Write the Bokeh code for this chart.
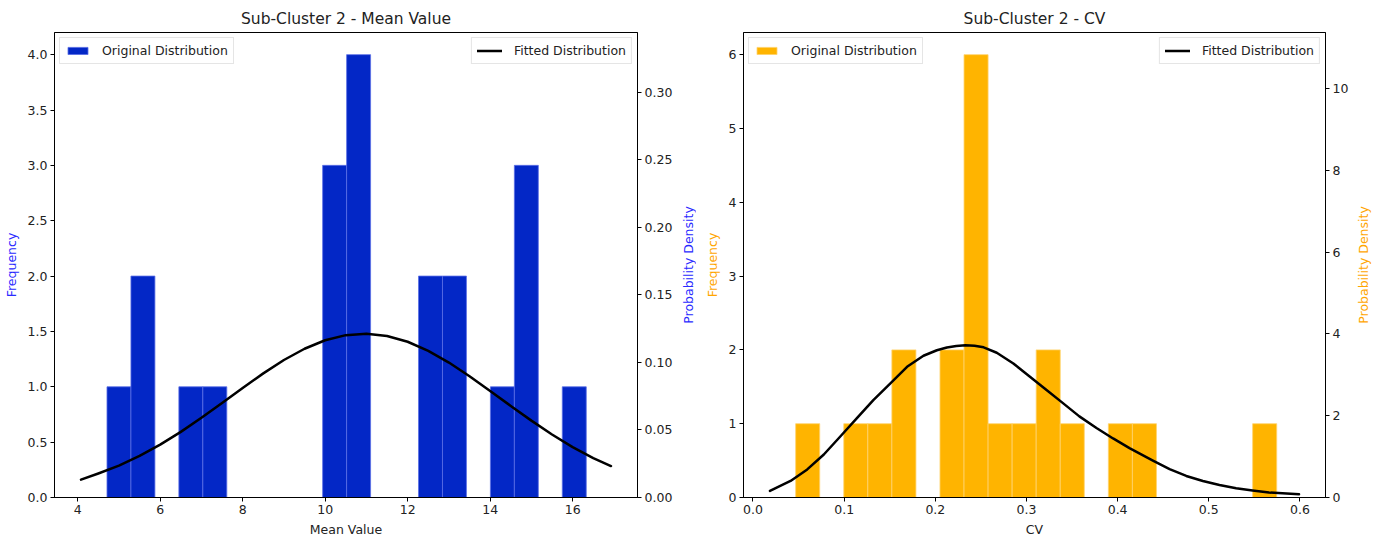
import numpy as np
from bokeh.plotting import figure
from bokeh.models import (Range1d, LinearAxis, FixedTicker, PrintfTickFormatter,
                          Legend, LegendItem, ColumnDataSource)
from bokeh.layouts import row
from bokeh.embed import file_html
from bokeh.resources import INLINE

# ---------------- data: Sub-Cluster 2 - Mean Value ----------------
mean_title = "Sub-Cluster 2 - Mean Value"
mean_xlabel = "Mean Value"
mean_bin_min = 4.71
mean_bin_max = 16.33
mean_counts = [1, 2, 0, 1, 1, 0, 0, 0, 0, 3, 4, 0, 0, 2, 2, 0, 1, 3, 0, 1]
mean_fit_x = [4.08, 4.5, 5.0, 5.5, 6.0, 6.5, 7.0, 7.5, 8.0, 8.5, 9.0, 9.5, 10.0, 10.5,
              11.0, 11.5, 12.0, 12.5, 13.0, 13.5, 14.0, 14.5, 15.0, 15.5, 16.0, 16.5, 16.93]
mean_fit_pdf = [0.0132, 0.0178, 0.0236, 0.0308, 0.0391, 0.0486, 0.0590, 0.0700, 0.0811,
                0.0919, 0.1018, 0.1101, 0.1164, 0.1202, 0.1213, 0.1196, 0.1153, 0.1086,
                0.0999, 0.0898, 0.0789, 0.0678, 0.0569, 0.0466, 0.0373, 0.0292, 0.0233]
mean_x_ticks = [4, 6, 8, 10, 12, 14, 16]
mean_freq_ticks = [0.0, 0.5, 1.0, 1.5, 2.0, 2.5, 3.0, 3.5, 4.0]
mean_dens_ticks = [0.00, 0.05, 0.10, 0.15, 0.20, 0.25, 0.30]

# ---------------- data: Sub-Cluster 2 - CV ----------------
cv_title = "Sub-Cluster 2 - CV"
cv_xlabel = "CV"
cv_bin_min = 0.0468
cv_bin_max = 0.5745
cv_counts = [1, 0, 1, 1, 2, 0, 2, 6, 1, 1, 2, 1, 0, 1, 1, 0, 0, 0, 0, 1]
cv_fit_x = [0.0186, 0.0412, 0.0595, 0.0777, 0.0960, 0.1140, 0.1320, 0.1510, 0.1690, 0.1870,
            0.2017, 0.2127, 0.2230, 0.2330, 0.2430, 0.2530, 0.2674, 0.2856, 0.3038, 0.3220,
            0.3400, 0.3580, 0.3768, 0.3950, 0.4130, 0.4387, 0.4570, 0.4753, 0.4935, 0.5117,
            0.5300, 0.5480, 0.5660, 0.5990]
cv_fit_pdf = [0.162, 0.404, 0.686, 1.052, 1.498, 1.942, 2.383, 2.798, 3.195, 3.466,
              3.600, 3.669, 3.706, 3.722, 3.710, 3.672, 3.540, 3.278, 2.955, 2.630,
              2.307, 1.984, 1.700, 1.444, 1.209, 0.903, 0.695, 0.527, 0.404, 0.307,
              0.227, 0.170, 0.121, 0.081]
cv_x_ticks = [0.0, 0.1, 0.2, 0.3, 0.4, 0.5, 0.6]
cv_freq_ticks = [0, 1, 2, 3, 4, 5, 6]
cv_dens_ticks = [0, 2, 4, 6, 8, 10]

FONT = "DejaVu Sans"
HEIGHT = 539
BORDER_TOP = 32
BORDER_BOTTOM = 39


def style_axis(ax):
    ax.major_tick_out = 4
    ax.major_tick_in = 0
    ax.minor_tick_out = 0
    ax.minor_tick_in = 0
    ax.axis_line_color = "black"
    ax.major_tick_line_color = "black"
    ax.major_label_text_font = FONT
    ax.major_label_text_font_size = "12.5px"
    ax.major_label_text_color = "#222222"
    ax.major_label_standoff = 3
    ax.axis_label_text_font = FONT
    ax.axis_label_text_font_size = "12.5px"
    ax.axis_label_text_font_style = "normal"
    ax.axis_label_standoff = 6


def make_panel(title, xlabel, bmin, bmax, counts, fx, fpdf, xticks, fticks, dticks,
               xfmt, ffmt, dfmt, bar_color, bar_line, label_color, width, bl, br):
    n_bins = len(counts)
    edges = np.linspace(bmin, bmax, n_bins + 1)
    bw = edges[1] - edges[0]
    centers = (edges[:-1] + edges[1:]) / 2
    n_total = sum(counts)
    ymax = max(counts) * 1.05
    dmax = ymax / (n_total * bw)
    xlo = min(fx) - 0.05 * (max(fx) - min(fx))
    xhi = max(fx) + 0.05 * (max(fx) - min(fx))

    p = figure(width=width, height=HEIGHT, output_backend="svg", toolbar_location=None,
               x_range=Range1d(xlo, xhi), y_range=Range1d(0, ymax),
               min_border_left=bl, min_border_right=br, min_border_top=BORDER_TOP,
               min_border_bottom=BORDER_BOTTOM, background_fill_color="white",
               border_fill_color="white")
    p.extra_y_ranges = {"dens": Range1d(0, dmax)}

    p.title.text = title
    p.title.align = "center"
    p.title.text_font = FONT
    p.title.text_font_style = "normal"
    p.title.text_font_size = "15.5px"
    p.title.text_color = "#222222"
    p.title.standoff = 10

    src = ColumnDataSource(dict(x=centers, top=counts))
    bars = p.vbar(x="x", top="top", width=bw, source=src, fill_color=bar_color,
                  line_color=bar_line, line_width=0.8)

    curve = p.line(fx, fpdf, y_range_name="dens", line_color="black", line_width=2.5,
                   line_join="round", line_cap="round")

    raxis = LinearAxis(y_range_name="dens")
    p.add_layout(raxis, "right")

    p.xaxis.ticker = FixedTicker(ticks=xticks)
    p.xaxis.formatter = PrintfTickFormatter(format=xfmt)
    p.xaxis.axis_label = xlabel
    p.yaxis[0].ticker = FixedTicker(ticks=fticks)
    p.yaxis[0].formatter = PrintfTickFormatter(format=ffmt)
    p.yaxis[0].axis_label = "Frequency"
    raxis.ticker = FixedTicker(ticks=dticks)
    raxis.formatter = PrintfTickFormatter(format=dfmt)

    for ax in p.xaxis + p.yaxis:
        style_axis(ax)
    p.xaxis.axis_label_text_color = "#222222"
    p.xaxis.axis_label_standoff = 5
    p.yaxis[0].axis_label_text_color = label_color
    raxis.axis_label_standoff = 0

    p.xgrid.visible = False
    p.ygrid.visible = False
    p.outline_line_color = "black"
    p.outline_line_width = 1

    for items, loc in (([LegendItem(label="Original Distribution", renderers=[bars])], "top_left"),
                       ([LegendItem(label="Fitted Distribution", renderers=[curve])], "top_right")):
        lg = Legend(items=items, location=loc, margin=5, padding=5, spacing=0,
                    glyph_width=25, glyph_height=9, label_standoff=12,
                    label_text_font=FONT, label_text_font_size="12.5px",
                    label_text_color="#222222", border_line_color="#cccccc",
                    border_line_width=1, background_fill_alpha=0.8)
        p.add_layout(lg, "center")
    return p


def label_strip(text, color, width, lb):
    """Narrow figure whose only content is a bottom-to-top axis title."""
    s = figure(width=width, height=HEIGHT, output_backend="svg", toolbar_location=None,
               x_range=Range1d(0, 1), y_range=Range1d(0, 1),
               min_border_left=lb, min_border_right=width - lb - 1,
               min_border_top=BORDER_TOP, min_border_bottom=BORDER_BOTTOM,
               background_fill_color="white", border_fill_color="white")
    s.outline_line_color = None
    s.xaxis.visible = False
    s.xgrid.visible = False
    s.ygrid.visible = False
    ya = s.yaxis[0]
    ya.ticker = FixedTicker(ticks=[])
    ya.axis_line_color = None
    ya.major_tick_out = 0
    ya.major_tick_in = 0
    ya.minor_tick_out = 0
    ya.minor_tick_in = 0
    ya.major_label_standoff = 0
    ya.axis_label = text
    ya.axis_label_standoff = 0
    ya.axis_label_text_font = FONT
    ya.axis_label_text_font_size = "12.5px"
    ya.axis_label_text_font_style = "normal"
    ya.axis_label_text_color = color
    return s


left = make_panel(mean_title, mean_xlabel, mean_bin_min, mean_bin_max, mean_counts,
                  mean_fit_x, mean_fit_pdf, mean_x_ticks, mean_freq_ticks, mean_dens_ticks,
                  "%d", "%.1f", "%.2f", "#0327c6", "#5a6ee6", "#2a2aff",
                  679, 54, 42)
left_dens_label = label_strip("Probability Density", "#2a2aff", 16, 15)
right = make_panel(cv_title, cv_xlabel, cv_bin_min, cv_bin_max, cv_counts,
                   cv_fit_x, cv_fit_pdf, cv_x_ticks, cv_freq_ticks, cv_dens_ticks,
                   "%.1f", "%d", "%d", "#ffb400", "#ffd36e", "#ffa500",
                   657, 48, 27)
right_dens_label = label_strip("Probability Density", "#ffa500", 27, 18)

layout = row(left, left_dens_label, right, right_dens_label)
open("out.html", "w").write(file_html(layout, INLINE))
